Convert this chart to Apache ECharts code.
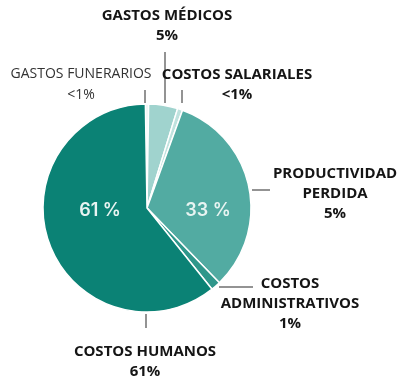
<!DOCTYPE html>
<html><head><meta charset="utf-8">
<script src="https://cdn.jsdelivr.net/npm/echarts@6/dist/echarts.min.js"></script>
<style>html,body{margin:0;padding:0;background:#fff}#c{width:404px;height:389px}</style>
</head><body><div id="c"></div>
<script>
// ---- data ----
const categories = ['GASTOS FUNERARIOS','GASTOS MÉDICOS','COSTOS SALARIALES','PRODUCTIVIDAD PERDIDA','COSTOS ADMINISTRATIVOS','COSTOS HUMANOS'];
const values = [0.5, 4.5, 0.8, 32.2, 1.5, 60.5];
const labelNames = ['GASTOS FUNERARIOS','GASTOS MÉDICOS','COSTOS SALARIALES','PRODUCTIVIDAD\nPERDIDA','COSTOS\nADMINISTRATIVOS','COSTOS HUMANOS'];
const labelValues = ['<1%','5%','<1%','5%','1%','61%'];
const insideLabels = ['','','','33 %','','61 %'];

// ---- style / layout ----
const colors = ['#eaf5f3','#a0d3ce','#bfe2de','#52aba2','#2f978b','#0b8275'];
const CX = 147, CY = 208, R = 104;
const outerLabelPos = [[81,85],[167,26],[237,85],[335,194],[290,304],[145,362]];
const leaders = [
  [[145,103],[145,90]],
  [[165,103],[165,52]],
  [[182,103],[182,90]],
  [[252,190],[270,190]],
  [[219,287],[253,287]],
  [[146,314],[146,328]]
];
const insidePos = [null,null,null,[208,211],null,[100,211]];

const chart = echarts.init(document.getElementById('c'), null, {renderer:'canvas'});
const pieData = values.map((v,i)=>({value:v, name:categories[i], itemStyle:{color:colors[i]}}));
const pieData2 = values.map((v,i)=>({value:v, name:categories[i]}));

chart.setOption({
  animation:false,
  series:[
    {
      type:'pie', center:[CX,CY], radius:R, startAngle:90.9, clockwise:true, silent:true,
      avoidLabelOverlap:false,
      data:pieData,
      itemStyle:{borderColor:'#fff', borderWidth:1.5},
      label:{show:true, position:'inside', formatter:p=>insideLabels[p.dataIndex],
        color:'#e8f4f2', fontFamily:'Inter', fontWeight:600, fontSize:18},
      labelLine:{show:false},
      labelLayout:p=>insidePos[p.dataIndex]?{x:insidePos[p.dataIndex][0], y:insidePos[p.dataIndex][1], align:'center', verticalAlign:'middle'}:{},
      emphasis:{disabled:true}
    },
    {
      type:'pie', center:[CX,CY], radius:R, startAngle:90.9, clockwise:true, silent:true,
      avoidLabelOverlap:false,
      data:pieData2,
      itemStyle:{color:'rgba(0,0,0,0)', borderWidth:0},
      label:{show:true, position:'outside',
        formatter:p=>{
          const s = p.dataIndex===0?'r':'b';
          return labelNames[p.dataIndex].split('\n').concat(labelValues[p.dataIndex]).map(t=>'{'+s+'|'+t+'}').join('\n');
        },
        rich:{
          b:{fontFamily:'Open Sans', fontWeight:'bold', fontSize:15, color:'#151515', lineHeight:20, align:'center'},
          r:{fontFamily:'Open Sans', fontWeight:'normal', fontSize:14, color:'#333333', lineHeight:21, align:'center'}
        }
      },
      labelLine:{show:true, length:10, length2:5, lineStyle:{color:'#6f6f6f', width:1.5}},
      labelLayout:p=>{
        const i=p.dataIndex, L=leaders[i];
        return {x:outerLabelPos[i][0], y:outerLabelPos[i][1], align:'center', verticalAlign:'middle',
          labelLinePoints:[L[0], L[1], L[1]]};
      },
      emphasis:{disabled:true}
    }
  ]
});
</script>
</body></html>
